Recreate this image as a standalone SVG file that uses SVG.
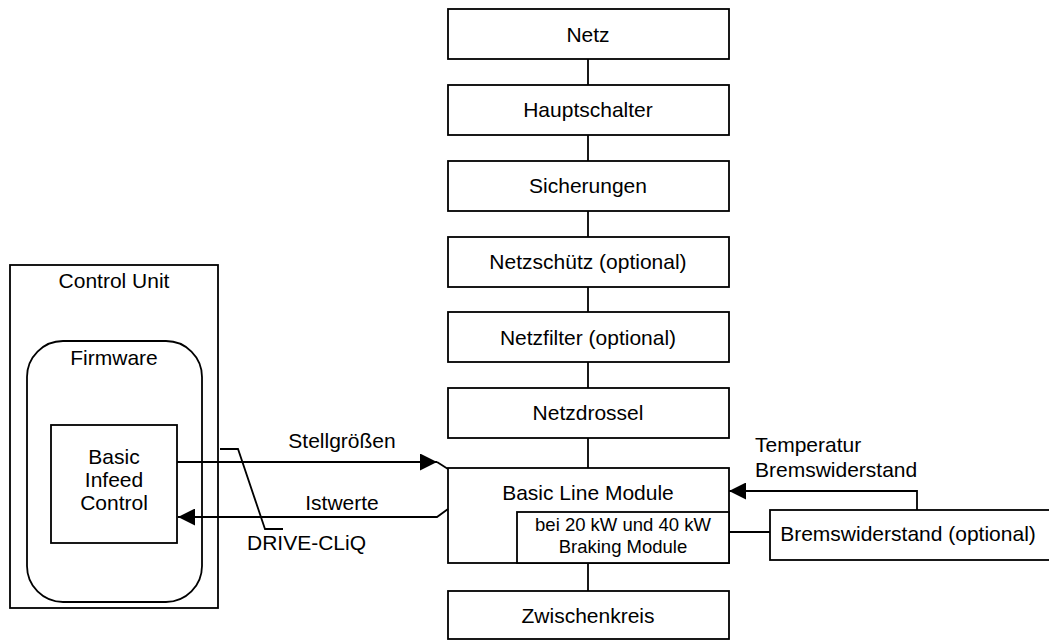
<svg xmlns="http://www.w3.org/2000/svg" width="1049" height="640" viewBox="0 0 1049 640">
  <defs>
    <style>
      .box { fill: #fff; stroke: #000; stroke-width: 1.8; }
      .wire { fill: none; stroke: #000; stroke-width: 1.8; }
      .lbl { font-family: "Liberation Sans", Arial, sans-serif; font-size: 21px; fill: #000; }
      .mid { text-anchor: middle; }
      .small { font-size: 18.5px; }
    </style>
    <marker id="arrow" viewBox="0 0 10 10" refX="10" refY="5" markerWidth="17" markerHeight="17" markerUnits="userSpaceOnUse" orient="auto">
      <path d="M0,0 L10,5 L0,10 Z" fill="#000"/>
    </marker>
  </defs>
  <rect width="1049" height="640" fill="#fff"/>

  <g id="control-unit">
    <rect class="box" x="10" y="265" width="208" height="343"/>
    <text class="lbl mid" x="114" y="288">Control Unit</text>
  </g>
  <g id="firmware">
    <rect class="box" x="27" y="341" width="175" height="261" rx="36" ry="36"/>
    <text class="lbl mid" x="114" y="365">Firmware</text>
  </g>
  <g id="basic-infeed-control">
    <rect class="box" x="51" y="425" width="126" height="118"/>
    <text class="lbl mid" x="114" y="464">Basic</text>
    <text class="lbl mid" x="114" y="487">Infeed</text>
    <text class="lbl mid" x="114" y="510">Control</text>
  </g>

  <g id="netz">
    <rect class="box" x="448" y="9" width="281" height="50"/>
    <text class="lbl mid" x="588" y="42">Netz</text>
  </g>
  <g id="hauptschalter">
    <rect class="box" x="448" y="85" width="281" height="50"/>
    <text class="lbl mid" x="588" y="117">Hauptschalter</text>
  </g>
  <g id="sicherungen">
    <rect class="box" x="448" y="161" width="281" height="50"/>
    <text class="lbl mid" x="588" y="193">Sicherungen</text>
  </g>
  <g id="netzschuetz">
    <rect class="box" x="448" y="237" width="281" height="50"/>
    <text class="lbl mid" x="588" y="269">Netzschütz (optional)</text>
  </g>
  <g id="netzfilter">
    <rect class="box" x="448" y="312" width="281" height="50"/>
    <text class="lbl mid" x="588" y="345">Netzfilter (optional)</text>
  </g>
  <g id="netzdrossel">
    <rect class="box" x="448" y="388" width="281" height="50"/>
    <text class="lbl mid" x="588" y="420">Netzdrossel</text>
  </g>
  <g id="basic-line-module">
    <rect class="box" x="448" y="468" width="281" height="95"/>
    <text class="lbl mid" x="588" y="500">Basic Line Module</text>
  </g>
  <g id="braking-module">
    <rect class="box" x="517" y="512" width="212" height="51"/>
    <text class="lbl small mid" x="623" y="531">bei 20 kW und 40 kW</text>
    <text class="lbl small mid" x="623" y="553">Braking Module</text>
  </g>
  <g id="zwischenkreis">
    <rect class="box" x="448" y="591" width="281" height="48"/>
    <text class="lbl mid" x="588" y="623">Zwischenkreis</text>
  </g>
  <g id="bremswiderstand">
    <rect class="box" x="770" y="510" width="290" height="50"/>
    <text class="lbl mid" x="908" y="541">Bremswiderstand (optional)</text>
  </g>

  <!-- connectors, drawn over the node boxes -->
  <g id="connectors">
    <line class="wire" x1="588" y1="59" x2="588" y2="85"/>
    <line class="wire" x1="588" y1="135" x2="588" y2="161"/>
    <line class="wire" x1="588" y1="211" x2="588" y2="237"/>
    <line class="wire" x1="588" y1="287" x2="588" y2="312"/>
    <line class="wire" x1="588" y1="362" x2="588" y2="388"/>
    <line class="wire" x1="588" y1="438" x2="588" y2="468"/>
    <line class="wire" x1="588" y1="563" x2="588" y2="591"/>
    <!-- Stellgrößen -->
    <polyline class="wire" points="177,462 437,462" marker-end="url(#arrow)"/>
    <line class="wire" x1="437" y1="462" x2="448" y2="469"/>
    <!-- Istwerte -->
    <polyline class="wire" points="448,509 437,517 178,517" marker-end="url(#arrow)"/>
    <!-- DRIVE-CLiQ leader -->
    <polyline class="wire" points="220,449 238,449 265,529 283,529"/>
    <!-- Temperatur Bremswiderstand -->
    <polyline class="wire" points="917,510 917,491 729,491" marker-end="url(#arrow)"/>
    <!-- Braking Module to Bremswiderstand -->
    <line class="wire" x1="729" y1="532" x2="770" y2="532"/>
  </g>

  <g id="labels">
    <text class="lbl mid" x="342" y="448">Stellgrößen</text>
    <text class="lbl mid" x="342" y="510">Istwerte</text>
    <text class="lbl" x="247" y="550">DRIVE-CLiQ</text>
    <text class="lbl" x="755" y="452">Temperatur</text>
    <text class="lbl" x="755" y="477">Bremswiderstand</text>
  </g>
</svg>
